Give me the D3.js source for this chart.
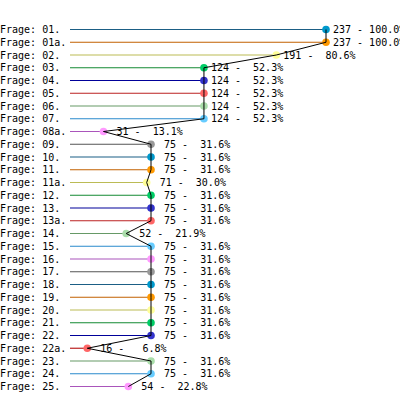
<!DOCTYPE html>
<html>
<head>
<meta charset="utf-8">
<script src="https://cdn.jsdelivr.net/npm/d3@7"></script>
<style>
  body { margin: 0; background: #fff; }
  svg { display: block; }
  text { font-family: "DejaVu Sans Mono", monospace; font-size: 10px; fill: #000; }
</style>
</head>
<body>
<svg id="chart" width="400" height="398"></svg>
<script>
// questions, top to bottom
const fragen = ["01.", "01a.", "02.", "03.", "04.", "05.", "06.", "07.", "08a.", "09.",
  "10.", "11.", "11a.", "12.", "13.", "13a.", "14.", "15.", "16.", "17.",
  "18.", "19.", "20.", "21.", "22.", "22a.", "23.", "24.", "25."];
// number of answers
const antworten = [237, 237, 191, 124, 124, 124, 124, 124, 31, 75,
  75, 75, 71, 75, 75, 75, 52, 75, 75, 75,
  75, 75, 75, 75, 75, 16, 75, 75, 54];
const gesamt = 237;

// colour cycle (line / point)
const lineColors = ["#1b5e85", "#c26000", "#bbbb55", "#138a33", "#000099",
  "#bb2222", "#669966", "#2a8acc", "#aa55bb", "#555555"];
const dotColors = ["#0099cc", "#ff9900", "#ffff99", "#00cc66", "#3333cc",
  "#ff6666", "#aaddaa", "#66ccff", "#ff99ff", "#999999"];

const rows = fragen.map((f, i) => ({ f, v: antworten[i], i }));

const svg = d3.select("#chart");
const x = d3.scaleLinear().domain([0, gesamt]).range([70, 326]);
const y = d3.scalePoint().domain(fragen).range([29.5, 386.5]);

// labels
svg.append("g").selectAll("text").data(rows).join("text")
  .attr("x", 0).attr("y", d => y(d.f) + 3.5)
  .text(d => "Frage: " + d.f);

// row lines
svg.append("g").selectAll("line").data(rows).join("line")
  .attr("x1", x(0)).attr("x2", d => x(d.v))
  .attr("y1", d => y(d.f)).attr("y2", d => y(d.f))
  .attr("stroke", d => lineColors[d.i % 10]).attr("stroke-width", 1.2);

// points
svg.append("g").selectAll("circle").data(rows).join("circle")
  .attr("cx", d => x(d.v)).attr("cy", d => y(d.f)).attr("r", 3.8)
  .attr("fill", d => dotColors[d.i % 10]);

// connecting line
svg.append("path").datum(rows)
  .attr("d", d3.line().x(d => x(d.v)).y(d => y(d.f)))
  .attr("fill", "none").attr("stroke", "#000").attr("stroke-width", 1);

// value labels
const pad = (s, n) => String(s).padStart(n, " ");
svg.append("g").selectAll("text").data(rows).join("text")
  .attr("x", d => x(d.v) + 7).attr("y", d => y(d.f) + 3.5)
  .attr("xml:space", "preserve")
  .style("white-space", "pre")
  .text(d => pad(d.v, 3) + " - " + pad((d.v / gesamt * 100).toFixed(1), 5) + "%");
</script>
</body>
</html>
